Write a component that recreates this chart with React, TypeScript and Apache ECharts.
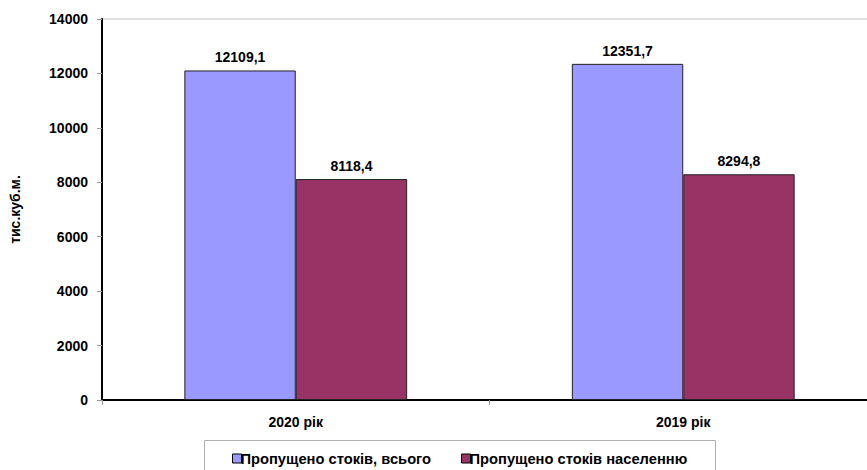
import React, { useEffect, useRef } from "react";
import * as echarts from "echarts";

const categories = ["2020 рік", "2019 рік"];
const seriesNames = ["Пропущено стоків, всього", "Пропущено стоків населенню"];
const totalValues = [12109.1, 12351.7];
const populationValues = [8118.4, 8294.8];
const yAxisName = "тис.куб.м.";

const fmt = (v: number) => v.toFixed(1).replace(".", ",");

export default function App() {
  const ref = useRef<HTMLDivElement>(null);
  useEffect(() => {
    if (!ref.current) return;
    const chart = echarts.init(ref.current, null, { renderer: "svg" });
    const font = "Liberation Sans, Arial, sans-serif";
    const labelStyle = {
      show: true,
      position: "top" as const,
      distance: 6,
      fontFamily: font,
      fontWeight: "bold" as const,
      fontSize: 14,
      color: "#000",
      formatter: (p: any) => fmt(p.value),
    };
    chart.setOption({
      animation: false,
      backgroundColor: "#fff",
      grid: {
        left: 97,
        top: 19,
        right: 3,
        bottom: 70,
        show: true,
        borderColor: "#c0c0c0",
        borderWidth: 1,
        containLabel: false,
      },
      xAxis: {
        type: "category",
        data: categories,
        axisLine: { lineStyle: { color: "#000", width: 2 } },
        axisTick: { show: true, length: 5, lineStyle: { color: "#999" } },
        axisLabel: {
          margin: 15,
          fontFamily: font,
          fontWeight: "bold",
          fontSize: 14,
          color: "#000",
        },
        splitLine: { show: false },
      },
      yAxis: {
        type: "value",
        min: 0,
        max: 14000,
        interval: 2000,
        name: yAxisName,
        nameLocation: "middle",
        nameGap: 80,
        nameTextStyle: {
          fontFamily: font,
          fontWeight: "bold",
          fontSize: 14,
          color: "#000",
        },
        axisLine: { show: true, lineStyle: { color: "#000", width: 2 } },
        axisTick: { show: true, length: 5, lineStyle: { color: "#999" } },
        axisLabel: {
          margin: 14,
          fontFamily: font,
          fontWeight: "bold",
          fontSize: 14,
          color: "#000",
          formatter: (v: number) => String(v),
        },
        splitLine: { show: false },
      },
      legend: {
        left: 227,
        top: 446,
        itemGap: 30,
        itemWidth: 9,
        itemHeight: 9,
        icon: "rect",
        itemStyle: { borderColor: "#000", borderWidth: 1 },
        textStyle: {
          fontFamily: font,
          fontWeight: "bold",
          fontSize: 14.7,
          color: "#000",
          padding: [0, 0, 0, -6],
        },
        data: seriesNames,
      },
      graphic: [
        {
          type: "rect",
          left: 202,
          top: 438,
          shape: { width: 511, height: 60 },
          style: { fill: "none", stroke: "#b0b0b0", lineWidth: 1 },
          silent: true,
          z: -1,
        },
      ],
      series: [
        {
          name: seriesNames[0],
          type: "bar",
          data: totalValues,
          barGap: "0%",
          barCategoryGap: "42.5%",
          itemStyle: { color: "#9999FF", borderColor: "#222", borderWidth: 1 },
          label: labelStyle,
        },
        {
          name: seriesNames[1],
          type: "bar",
          data: populationValues,
          barGap: "0%",
          barCategoryGap: "42.5%",
          itemStyle: { color: "#993366", borderColor: "#222", borderWidth: 1 },
          label: labelStyle,
        },
      ],
    });
    return () => chart.dispose();
  }, []);
  return (
    <div style={{ position: "absolute", left: 0, top: 0, width: 867, height: 470, overflow: "hidden" }}>
      <div ref={ref} style={{ width: 880, height: 470 }} />
    </div>
  );
}
